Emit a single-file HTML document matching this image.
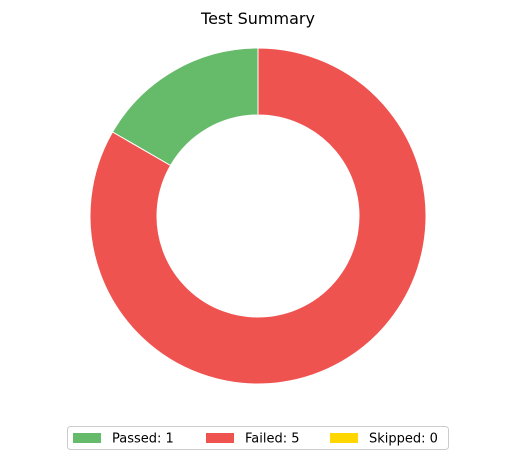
<!DOCTYPE html>
<html><head><meta charset="utf-8"><style>
body{margin:0;background:#fff;font-family:"Liberation Sans","DejaVu Sans",sans-serif;}
svg text{font-family:"DejaVu Sans","Liberation Sans",sans-serif;}
</style></head><body>
<svg id="chart" width="515" height="460">
<text x="258" y="24" text-anchor="middle" font-size="16" fill="#000">Test Summary</text>
<g id="slices"></g>
<g id="legend">
<rect x="67.5" y="426.5" width="381" height="23" rx="3" fill="#fff" stroke="#ccc"/>
</g>
</svg>
<script>
const labels=["Passed","Failed","Skipped"];
const values=[1,5,0];
const colors=["#66bb6a","#ef5350","#ffd600"];
const cx=258,cy=216,R=168,r=101;
const g=document.getElementById('slices');
const total=values.reduce((a,b)=>a+b,0);
let ang=90;
values.forEach((v,i)=>{
  if(v<=0)return;
  const sweep=v/total*360;
  const a0=ang*Math.PI/180,a1=(ang+sweep)*Math.PI/180;
  const p=(rad,a)=>[cx+rad*Math.cos(a),cy-rad*Math.sin(a)];
  const large=sweep>180?1:0;
  const [x0,y0]=p(R,a0),[x1,y1]=p(R,a1),[x2,y2]=p(r,a1),[x3,y3]=p(r,a0);
  const path=document.createElementNS('http://www.w3.org/2000/svg','path');
  path.setAttribute('d',`M${x0},${y0} A${R},${R} 0 ${large} 0 ${x1},${y1} L${x2},${y2} A${r},${r} 0 ${large} 1 ${x3},${y3} Z`);
  path.setAttribute('fill',colors[i]);
  path.setAttribute('stroke','#fff');
  path.setAttribute('stroke-width','1');
  
  
  g.appendChild(path);
  ang+=sweep;
});
const lg=document.getElementById('legend');
const xs=[73,206,330];
labels.forEach((l,i)=>{
  const e=document.createElementNS('http://www.w3.org/2000/svg','g');
  
  
  e.innerHTML=`<rect x="${xs[i]}" y="433" width="28" height="10" fill="${colors[i]}"/><text x="${xs[i]+39}" y="442.5" font-size="13" fill="#000">${l}: ${values[i]}</text>`;
  lg.appendChild(e);
});
</script>
</body></html>
